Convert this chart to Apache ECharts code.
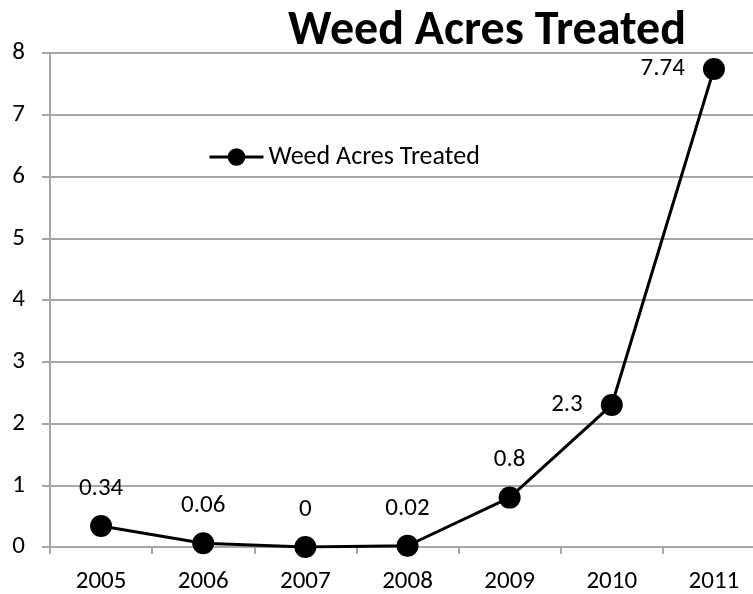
<!DOCTYPE html>
<html>
<head>
<meta charset="utf-8">
<script src="https://cdn.jsdelivr.net/npm/echarts@6/dist/echarts.min.js"></script>
<style>
html, body { margin: 0; padding: 0; background: #fff; }
#plot { width: 753px; height: 594px; }
</style>
</head>
<body>
<div id="plot"></div>
<script>
var years = ['2005', '2006', '2007', '2008', '2009', '2010', '2011'];
var acres = [0.34, 0.06, 0, 0.02, 0.8, 2.3, 7.74];
var leftLabelYears = ['2010', '2011'];

var font = 'Carlito, "Open Sans", "Liberation Sans", sans-serif';
var gray = '#a6a6a6';

var points = [];
for (var i = 0; i < acres.length; i++) {
	var p = { value: acres[i] };
	if (leftLabelYears.indexOf(years[i]) >= 0)
		p.label = { position: 'left', distance: 18 };
	points.push(p);
}

var option = {
	animation: false,
	title: {
		text: 'Weed Acres Treated',
		left: 482,
		textAlign: 'center',
		top: 3,
		textStyle: { fontFamily: font, fontSize: 48, fontWeight: 'bold', color: '#000' }
	},
	legend: {
		left: 203,
		top: 139,
		itemWidth: 54,
		itemHeight: 22,
		itemGap: 4,
		lineStyle: { width: 3 },
		textStyle: { fontFamily: font, fontSize: 26, color: '#000' },
		data: ['Weed Acres Treated']
	},
	grid: { left: 50, width: 715, top: 53, bottom: 47, outerBoundsMode: 'none' },
	xAxis: {
		type: 'category',
		data: years,
		boundaryGap: true,
		axisLine: { lineStyle: { color: gray, width: 2 } },
		axisTick: { show: true, length: 7, lineStyle: { color: gray, width: 2 } },
		axisLabel: { fontFamily: font, fontSize: 25, color: '#000', margin: 22 }
	},
	yAxis: {
		type: 'value',
		min: 0,
		max: 8,
		interval: 1,
		axisLine: { show: true, lineStyle: { color: gray, width: 2 } },
		axisTick: { show: true, length: 8, lineStyle: { color: gray, width: 2 } },
		splitLine: { lineStyle: { color: gray, width: 2 } },
		axisLabel: { fontFamily: font, fontSize: 25, color: '#000', margin: 25 }
	},
	series: [
		{
			name: 'Weed Acres Treated',
			type: 'line',
			data: points,
			symbol: 'circle',
			symbolSize: 22,
			lineStyle: { color: '#000', width: 3 },
			itemStyle: { color: '#000' },
			label: {
				show: true,
				position: 'top',
				distance: 14,
				fontFamily: font,
				fontSize: 25,
				color: '#000'
			}
		}
	]
};

var myChart = echarts.init(document.getElementById('plot'));
myChart.setOption(option);
</script>
</body>
</html>
